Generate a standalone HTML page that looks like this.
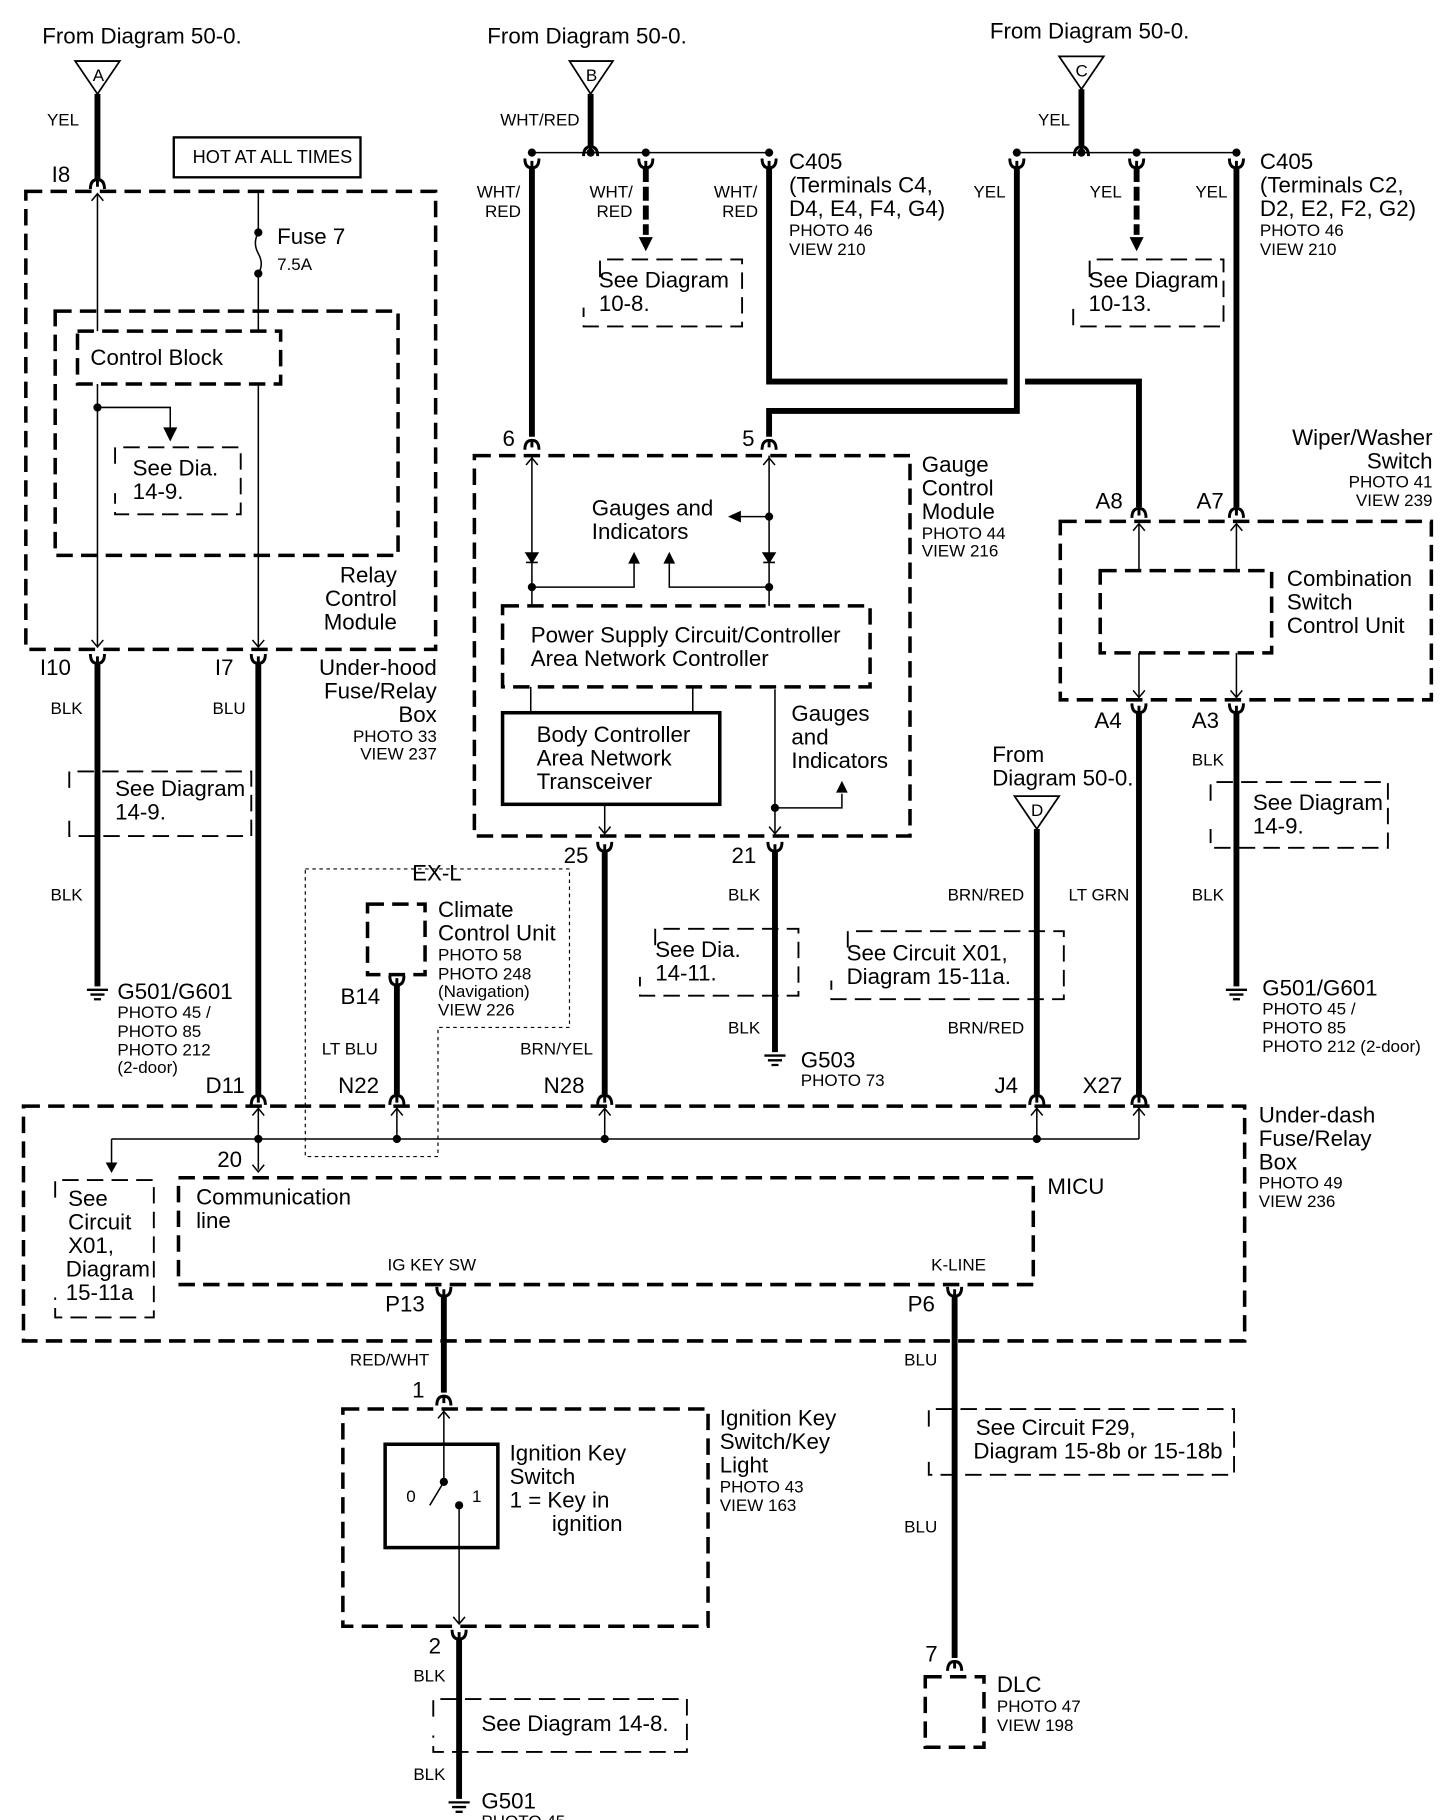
<!DOCTYPE html>
<html><head><meta charset="utf-8"><style>
html,body{margin:0;padding:0;background:#fff}
svg{display:block}
text{font-family:"Liberation Sans",Arial,sans-serif;fill:#000}
.l{font-size:19px}.s{font-size:14.5px}.m{font-size:15.5px}
.th{stroke:#000;stroke-width:5;fill:none}
.tn{stroke:#000;stroke-width:1.3;fill:none}
.db{stroke:#000;stroke-width:3;fill:none;stroke-dasharray:14,7}
.dl{stroke:#000;stroke-width:1.6;fill:none;stroke-dasharray:14,7}
.dt{stroke:#000;stroke-width:1;fill:none;stroke-dasharray:3,3}
</style></head><body>
<svg width="1456" height="1820" viewBox="0 0 1240 1550" xmlns="http://www.w3.org/2000/svg">
<defs>
<path id="cu" d="M-6,5 Q-6,-3 0,-3 Q6,-3 6,5 M0,-3 L0,3" stroke="#000" stroke-width="2.5" fill="none"/>
<path id="cd" d="M-6,-5 Q-6,3 0,3 Q6,3 6,-5 M0,3 L0,-3" stroke="#000" stroke-width="2.5" fill="none"/>
<path id="au" d="M-5,6 L0,0 L5,6" stroke="#000" stroke-width="1.3" fill="none"/>
<path id="ad" d="M-5,-6 L0,0 L5,-6" stroke="#000" stroke-width="1.3" fill="none"/>
<path id="ah" d="M-6,-12 L6,-12 L0,0 Z" fill="#000"/>
<path id="ahu" d="M-5,10 L5,10 L0,0 Z" fill="#000"/>
<g id="gnd"><path d="M-9,0 H9 M-6,4 H6 M-3,8 H3" stroke="#000" stroke-width="2"/></g>
<circle id="dt" r="3.5" fill="#000"/>
</defs>

<text x="36" y="37" class="l">From Diagram 50-0.</text>
<text x="415" y="37" class="l">From Diagram 50-0.</text>
<text x="843" y="33" class="l">From Diagram 50-0.</text>

<path d="M64,52 L102,52 L83,80 Z" fill="none" stroke="#000" stroke-width="1.5"/>
<text x="79" y="69" class="s">A</text>
<line x1="83" y1="80" x2="83" y2="152" class="th"/>
<use href="#cu" x="83" y="156"/>
<text x="40" y="107" class="s">YEL</text>
<text x="44" y="155" class="l">I8</text>
<rect x="148" y="117" width="159" height="34" fill="none" stroke="#000" stroke-width="2"/>
<text x="164" y="139" class="m">HOT AT ALL TIMES</text>

<rect x="22" y="163" width="349" height="390" class="db"/>
<rect x="47" y="265" width="292" height="208" class="db"/>
<rect x="66" y="282" width="173" height="45" class="db"/>
<text x="77" y="311" class="l">Control Block</text>
<line x1="83" y1="165" x2="83" y2="282" class="tn"/><use href="#au" x="83" y="165"/>
<line x1="83" y1="327" x2="83" y2="550" class="tn"/><use href="#ad" x="83" y="551"/>
<line x1="220" y1="163" x2="220" y2="195" class="tn"/>
<path d="M220,198 q-5,9 0,18 q5,9 0,17" class="tn"/>
<use href="#dt" x="220" y="198"/><use href="#dt" x="220" y="233"/>
<line x1="220" y1="233" x2="220" y2="282" class="tn"/>
<line x1="220" y1="327" x2="220" y2="550" class="tn"/><use href="#ad" x="220" y="551"/>
<text x="236" y="208" class="l">Fuse 7</text>
<text x="236" y="230" class="s">7.5A</text>
<use href="#dt" x="83" y="347"/>
<path d="M83,347 H145 V372" class="tn"/><use href="#ah" x="145" y="376"/>
<path d="M98,395 V381 H205 V438 H98 V420" class="dl"/>
<text x="113" y="405" class="l">See Dia.</text>
<text x="113" y="425" class="l">14-9.</text>
<text x="338" y="496" class="l" text-anchor="end">Relay</text>
<text x="338" y="516" class="l" text-anchor="end">Control</text>
<text x="338" y="536" class="l" text-anchor="end">Module</text>

<use href="#cd" x="83" y="562"/><use href="#cd" x="220" y="562"/>
<text x="34" y="575" class="l">I10</text>
<text x="183" y="575" class="l">I7</text>
<line x1="83" y1="565" x2="83" y2="840" class="th"/>
<line x1="220" y1="565" x2="220" y2="932" class="th"/>
<text x="43" y="608" class="s">BLK</text>
<text x="181" y="608" class="s">BLU</text>
<path d="M59,671 V657 H214 V712 H59 V696" class="dl"/>
<text x="98" y="678" class="l">See Diagram</text>
<text x="98" y="698" class="l">14-9.</text>
<text x="43" y="767" class="s">BLK</text>
<use href="#gnd" x="83" y="843"/>
<text x="100" y="851" class="l">G501/G601</text>
<text x="100" y="867" class="s">PHOTO 45 /</text>
<text x="100" y="883" class="s">PHOTO 85</text>
<text x="100" y="899" class="s">PHOTO 212</text>
<text x="100" y="914" class="s">(2-door)</text>
<text x="372" y="575" class="l" text-anchor="end">Under-hood</text>
<text x="372" y="595" class="l" text-anchor="end">Fuse/Relay</text>
<text x="372" y="615" class="l" text-anchor="end">Box</text>
<text x="372" y="632" class="s" text-anchor="end">PHOTO 33</text>
<text x="372" y="647" class="s" text-anchor="end">VIEW 237</text>

<path d="M485,52 L522,52 L503,80 Z" fill="none" stroke="#000" stroke-width="1.5"/>
<text x="499" y="69" class="s">B</text>
<line x1="503" y1="80" x2="503" y2="124" class="th"/>
<use href="#cu" x="503" y="128"/>
<text x="426" y="107" class="s">WHT/RED</text>
<line x1="453" y1="130" x2="655" y2="130" class="tn"/>
<use href="#dt" x="453" y="130"/><use href="#dt" x="503" y="130"/><use href="#dt" x="550" y="130"/><use href="#dt" x="655" y="130"/>
<use href="#cd" x="453" y="140"/><use href="#cd" x="550" y="140"/><use href="#cd" x="655" y="140"/>
<line x1="453" y1="143" x2="453" y2="372" class="th"/>
<line x1="550" y1="143" x2="550" y2="200" class="th" stroke-dasharray="12,4"/>
<use href="#ah" x="550" y="214"/>
<text x="406" y="168" class="s">WHT/</text><text x="413" y="185" class="s">RED</text>
<text x="502" y="168" class="s">WHT/</text><text x="508" y="185" class="s">RED</text>
<text x="608" y="168" class="s">WHT/</text><text x="615" y="185" class="s">RED</text>
<path d="M511,236 V221 H632 V278 H497 V262" class="dl"/>
<text x="510" y="245" class="l">See Diagram</text>
<text x="510" y="265" class="l">10-8.</text>
<text x="672" y="144" class="l">C405</text>
<text x="672" y="164" class="l">(Terminals C4,</text>
<text x="672" y="184" class="l">D4, E4, F4, G4)</text>
<text x="672" y="201" class="s">PHOTO 46</text>
<text x="672" y="217" class="s">VIEW 210</text>
<path d="M655,143 V325 H858" class="th"/>
<path d="M873,325 H970 V432" class="th"/>
<path d="M866,143 V350 H655 V372" class="th"/>

<path d="M902,48 L940,48 L921,76 Z" fill="none" stroke="#000" stroke-width="1.5"/>
<text x="916" y="65" class="s">C</text>
<line x1="921" y1="76" x2="921" y2="124" class="th"/>
<use href="#cu" x="921" y="128"/>
<text x="884" y="107" class="s">YEL</text>
<line x1="866" y1="130" x2="1053" y2="130" class="tn"/>
<use href="#dt" x="866" y="130"/><use href="#dt" x="921" y="130"/><use href="#dt" x="968" y="130"/><use href="#dt" x="1053" y="130"/>
<use href="#cd" x="866" y="140"/><use href="#cd" x="968" y="140"/><use href="#cd" x="1053" y="140"/>
<line x1="968" y1="143" x2="968" y2="200" class="th" stroke-dasharray="12,4"/>
<use href="#ah" x="968" y="214"/>
<line x1="1053" y1="143" x2="1053" y2="432" class="th"/>
<text x="829" y="168" class="s">YEL</text>
<text x="928" y="168" class="s">YEL</text>
<text x="1018" y="168" class="s">YEL</text>
<path d="M928,236 V221 H1042 V278 H914 V262" class="dl"/>
<text x="927" y="245" class="l">See Diagram</text>
<text x="927" y="265" class="l">10-13.</text>
<text x="1073" y="144" class="l">C405</text>
<text x="1073" y="164" class="l">(Terminals C2,</text>
<text x="1073" y="184" class="l">D2, E2, F2, G2)</text>
<text x="1073" y="201" class="s">PHOTO 46</text>
<text x="1073" y="217" class="s">VIEW 210</text>

<use href="#cu" x="453" y="378"/><use href="#cu" x="655" y="378"/>
<text x="428" y="380" class="l">6</text>
<text x="632" y="380" class="l">5</text>
<rect x="404" y="388" width="371" height="324" class="db"/>
<line x1="453" y1="388" x2="453" y2="516" class="tn"/><use href="#au" x="453" y="390"/>
<line x1="655" y1="388" x2="655" y2="516" class="tn"/><use href="#au" x="655" y="390"/>
<path d="M448,471 H458 L453,479 Z M448,479 H458" fill="#000" stroke="#000" stroke-width="1.3"/>
<path d="M650,471 H660 L655,479 Z M650,479 H660" fill="#000" stroke="#000" stroke-width="1.3"/>
<use href="#dt" x="453" y="500"/><use href="#dt" x="655" y="500"/><use href="#dt" x="655" y="440"/>
<path d="M453,500 H540 V480" class="tn"/><use href="#ahu" x="540" y="470"/>
<path d="M655,500 H570 V480" class="tn"/><use href="#ahu" x="570" y="470"/>
<line x1="655" y1="440" x2="630" y2="440" class="tn"/>
<path d="M620,440 L631,435 L631,445 Z" fill="#000"/>
<text x="504" y="439" class="l">Gauges and</text>
<text x="504" y="459" class="l">Indicators</text>
<rect x="428" y="516" width="313" height="69" class="db"/>
<text x="452" y="547" class="l">Power Supply Circuit/Controller</text>
<text x="452" y="567" class="l">Area Network Controller</text>
<line x1="452" y1="585" x2="452" y2="607" class="tn"/>
<line x1="590" y1="585" x2="590" y2="607" class="tn"/>
<rect x="428" y="607" width="185" height="78" fill="none" stroke="#000" stroke-width="3"/>
<text x="457" y="632" class="l">Body Controller</text>
<text x="457" y="652" class="l">Area Network</text>
<text x="457" y="672" class="l">Transceiver</text>
<line x1="515" y1="685" x2="515" y2="710" class="tn"/><use href="#ad" x="515" y="710"/>
<line x1="660" y1="587" x2="660" y2="710" class="tn"/><use href="#ad" x="660" y="710"/>
<use href="#dt" x="660" y="688"/>
<path d="M660,688 H717 V676" class="tn"/><use href="#ahu" x="717" y="665"/>
<text x="674" y="614" class="l">Gauges</text>
<text x="674" y="634" class="l">and</text>
<text x="674" y="654" class="l">Indicators</text>
<text x="785" y="402" class="l">Gauge</text>
<text x="785" y="422" class="l">Control</text>
<text x="785" y="442" class="l">Module</text>
<text x="785" y="459" class="s">PHOTO 44</text>
<text x="785" y="474" class="s">VIEW 216</text>

<use href="#cd" x="515" y="722"/><use href="#cd" x="660" y="722"/>
<text x="480" y="735" class="l">25</text>
<text x="623" y="735" class="l">21</text>
<line x1="515" y1="725" x2="515" y2="932" class="th"/>
<line x1="660" y1="725" x2="660" y2="896" class="th"/>
<use href="#gnd" x="660" y="899"/>
<text x="620" y="767" class="s">BLK</text>
<text x="620" y="880" class="s">BLK</text>
<path d="M558,805 V791 H680 V848 H545 V832" class="dl"/>
<text x="558" y="815" class="l">See Dia.</text>
<text x="558" y="835" class="l">14-11.</text>
<text x="682" y="909" class="l">G503</text>
<text x="682" y="925" class="s">PHOTO 73</text>
<text x="443" y="898" class="s">BRN/YEL</text>

<text x="1220" y="379" class="l" text-anchor="end">Wiper/Washer</text>
<text x="1220" y="399" class="l" text-anchor="end">Switch</text>
<text x="1220" y="415" class="s" text-anchor="end">PHOTO 41</text>
<text x="1220" y="431" class="s" text-anchor="end">VIEW 239</text>
<use href="#cu" x="970" y="436"/><use href="#cu" x="1053" y="436"/>
<text x="933" y="433" class="l">A8</text>
<text x="1019" y="433" class="l">A7</text>
<rect x="903" y="444" width="316" height="152" class="db"/>
<rect x="937" y="486" width="146" height="70" class="db"/>
<line x1="970" y1="446" x2="970" y2="486" class="tn"/><use href="#au" x="970" y="446"/>
<line x1="1053" y1="446" x2="1053" y2="486" class="tn"/><use href="#au" x="1053" y="446"/>
<line x1="970" y1="556" x2="970" y2="594" class="tn"/><use href="#ad" x="970" y="594"/>
<line x1="1053" y1="556" x2="1053" y2="594" class="tn"/><use href="#ad" x="1053" y="594"/>
<text x="1096" y="499" class="l">Combination</text>
<text x="1096" y="519" class="l">Switch</text>
<text x="1096" y="539" class="l">Control Unit</text>
<use href="#cd" x="970" y="604"/><use href="#cd" x="1053" y="604"/>
<text x="932" y="620" class="l">A4</text>
<text x="1015" y="620" class="l">A3</text>
<line x1="970" y1="607" x2="970" y2="932" class="th"/>
<line x1="1053" y1="607" x2="1053" y2="840" class="th"/>
<use href="#gnd" x="1053" y="843"/>
<text x="1015" y="652" class="s">BLK</text>
<text x="1015" y="767" class="s">BLK</text>
<text x="910" y="767" class="s">LT GRN</text>
<path d="M1031,682 V666 H1182 V722 H1031 V706" class="dl"/>
<text x="1067" y="690" class="l">See Diagram</text>
<text x="1067" y="710" class="l">14-9.</text>
<text x="1075" y="848" class="l">G501/G601</text>
<text x="1075" y="864" class="s">PHOTO 45 /</text>
<text x="1075" y="880" class="s">PHOTO 85</text>
<text x="1075" y="896" class="s">PHOTO 212 (2-door)</text>

<text x="845" y="649" class="l">From</text>
<text x="845" y="669" class="l">Diagram 50-0.</text>
<path d="M864,678 L902,678 L883,706 Z" fill="none" stroke="#000" stroke-width="1.5"/>
<text x="878" y="695" class="s">D</text>
<line x1="883" y1="706" x2="883" y2="932" class="th"/>
<text x="807" y="767" class="s">BRN/RED</text>
<text x="807" y="880" class="s">BRN/RED</text>
<path d="M722,807 V793 H906 V851 H708 V835" class="dl"/>
<text x="721" y="818" class="l">See Circuit X01,</text>
<text x="721" y="838" class="l">Diagram 15-11a.</text>

<path d="M260,740 H485 V875 H373 V985 H260 Z" class="dt"/>
<text x="351" y="750" class="l">EX-L</text>
<rect x="313" y="770" width="49" height="60" class="db"/>
<text x="373" y="781" class="l">Climate</text>
<text x="373" y="801" class="l">Control Unit</text>
<text x="373" y="818" class="s">PHOTO 58</text>
<text x="373" y="834" class="s">PHOTO 248</text>
<text x="373" y="849" class="s">(Navigation)</text>
<text x="373" y="865" class="s">VIEW 226</text>
<use href="#cd" x="338" y="836"/>
<text x="290" y="855" class="l">B14</text>
<line x1="338" y1="839" x2="338" y2="932" class="th"/>
<text x="274" y="898" class="s">LT BLU</text>

<text x="175" y="931" class="l">D11</text>
<text x="288" y="931" class="l">N22</text>
<text x="463" y="931" class="l">N28</text>
<text x="847" y="931" class="l">J4</text>
<text x="922" y="931" class="l">X27</text>
<use href="#cu" x="220" y="936"/><use href="#cu" x="338" y="936"/><use href="#cu" x="515" y="936"/><use href="#cu" x="883" y="936"/><use href="#cu" x="970" y="936"/>
<rect x="20" y="942" width="1040" height="200" class="db"/>
<line x1="95" y1="970" x2="970" y2="970" class="tn"/>
<g class="tn">
<line x1="220" y1="942" x2="220" y2="996"/><line x1="338" y1="942" x2="338" y2="970"/><line x1="515" y1="942" x2="515" y2="970"/><line x1="883" y1="942" x2="883" y2="970"/><line x1="970" y1="942" x2="970" y2="970"/>
<line x1="95" y1="970" x2="95" y2="990"/></g>
<use href="#au" x="220" y="944"/><use href="#au" x="338" y="944"/><use href="#au" x="515" y="944"/><use href="#au" x="883" y="944"/><use href="#au" x="970" y="944"/>
<use href="#dt" x="220" y="970"/><use href="#dt" x="338" y="970"/><use href="#dt" x="515" y="970"/><use href="#dt" x="883" y="970"/>
<path d="M90,990 L100,990 L95,999 Z" fill="#000"/>
<use href="#ad" x="220" y="998"/>
<text x="185" y="994" class="l">20</text>
<path d="M47,1020 V1005 H131 V1122 H47 V1105" class="dl"/>
<text x="58" y="1027" class="l">See</text>
<text x="58" y="1047" class="l">Circuit</text>
<text x="58" y="1067" class="l">X01,</text>
<text x="56" y="1087" class="l">Diagram</text>
<text x="56" y="1107" class="l">15-11a</text>
<rect x="152" y="1003" width="728" height="91" class="db"/>
<text x="167" y="1026" class="l">Communication</text>
<text x="167" y="1046" class="l">line</text>
<text x="892" y="1017" class="l">MICU</text>
<text x="330" y="1082" class="s">IG KEY SW</text>
<text x="793" y="1082" class="s">K-LINE</text>
<use href="#cd" x="378" y="1101"/><use href="#cd" x="813" y="1101"/>
<text x="328" y="1117" class="l">P13</text>
<text x="773" y="1117" class="l">P6</text>
<text x="1072" y="956" class="l">Under-dash</text>
<text x="1072" y="976" class="l">Fuse/Relay</text>
<text x="1072" y="996" class="l">Box</text>
<text x="1072" y="1012" class="s">PHOTO 49</text>
<text x="1072" y="1028" class="s">VIEW 236</text>

<line x1="378" y1="1104" x2="378" y2="1186" class="th"/>
<use href="#cu" x="378" y="1192"/>
<text x="298" y="1163" class="s">RED/WHT</text>
<text x="351" y="1190" class="l">1</text>
<rect x="292" y="1200" width="311" height="185" class="db"/>
<rect x="328" y="1230" width="96" height="88" fill="none" stroke="#000" stroke-width="3"/>
<line x1="378" y1="1200" x2="378" y2="1262" class="tn"/><use href="#au" x="378" y="1202"/>
<use href="#dt" x="378" y="1262"/>
<line x1="378" y1="1262" x2="366" y2="1282" class="tn"/>
<use href="#dt" x="391" y="1282"/>
<line x1="391" y1="1282" x2="391" y2="1382" class="tn"/><use href="#ad" x="391" y="1383"/>
<text x="346" y="1279" class="s">0</text>
<text x="402" y="1279" class="s">1</text>
<text x="434" y="1244" class="l">Ignition Key</text>
<text x="434" y="1264" class="l">Switch</text>
<text x="434" y="1284" class="l">1 =  Key in</text>
<text x="470" y="1304" class="l">ignition</text>
<text x="613" y="1214" class="l">Ignition Key</text>
<text x="613" y="1234" class="l">Switch/Key</text>
<text x="613" y="1254" class="l">Light</text>
<text x="613" y="1271" class="s">PHOTO 43</text>
<text x="613" y="1287" class="s">VIEW 163</text>
<use href="#cd" x="391" y="1393"/>
<text x="365" y="1408" class="l">2</text>
<line x1="391" y1="1396" x2="391" y2="1532" class="th"/>
<use href="#gnd" x="391" y="1535"/>
<text x="352" y="1432" class="s">BLK</text>
<text x="352" y="1516" class="s">BLK</text>
<path d="M369,1462 V1447 H585 V1492 H369 V1478" class="dl"/>
<text x="410" y="1474" class="l">See Diagram 14-8.</text>
<text x="410" y="1540" class="l">G501</text>
<text x="410" y="1556" class="s">PHOTO 45</text>

<line x1="813" y1="1104" x2="813" y2="1412" class="th"/>
<use href="#cu" x="813" y="1418"/>
<text x="770" y="1163" class="s">BLU</text>
<text x="770" y="1305" class="s">BLU</text>
<text x="788" y="1415" class="l">7</text>
<path d="M791,1215 V1200 H1051 V1256 H791 V1240" class="dl"/>
<text x="831" y="1222" class="l">See Circuit F29,</text>
<text x="829" y="1242" class="l">Diagram 15-8b or 15-18b</text>
<rect x="788" y="1428" width="50" height="60" class="db"/>
<text x="849" y="1441" class="l">DLC</text>
<text x="849" y="1458" class="s">PHOTO 47</text>
<text x="849" y="1474" class="s">VIEW 198</text>
</svg>
</body></html>
